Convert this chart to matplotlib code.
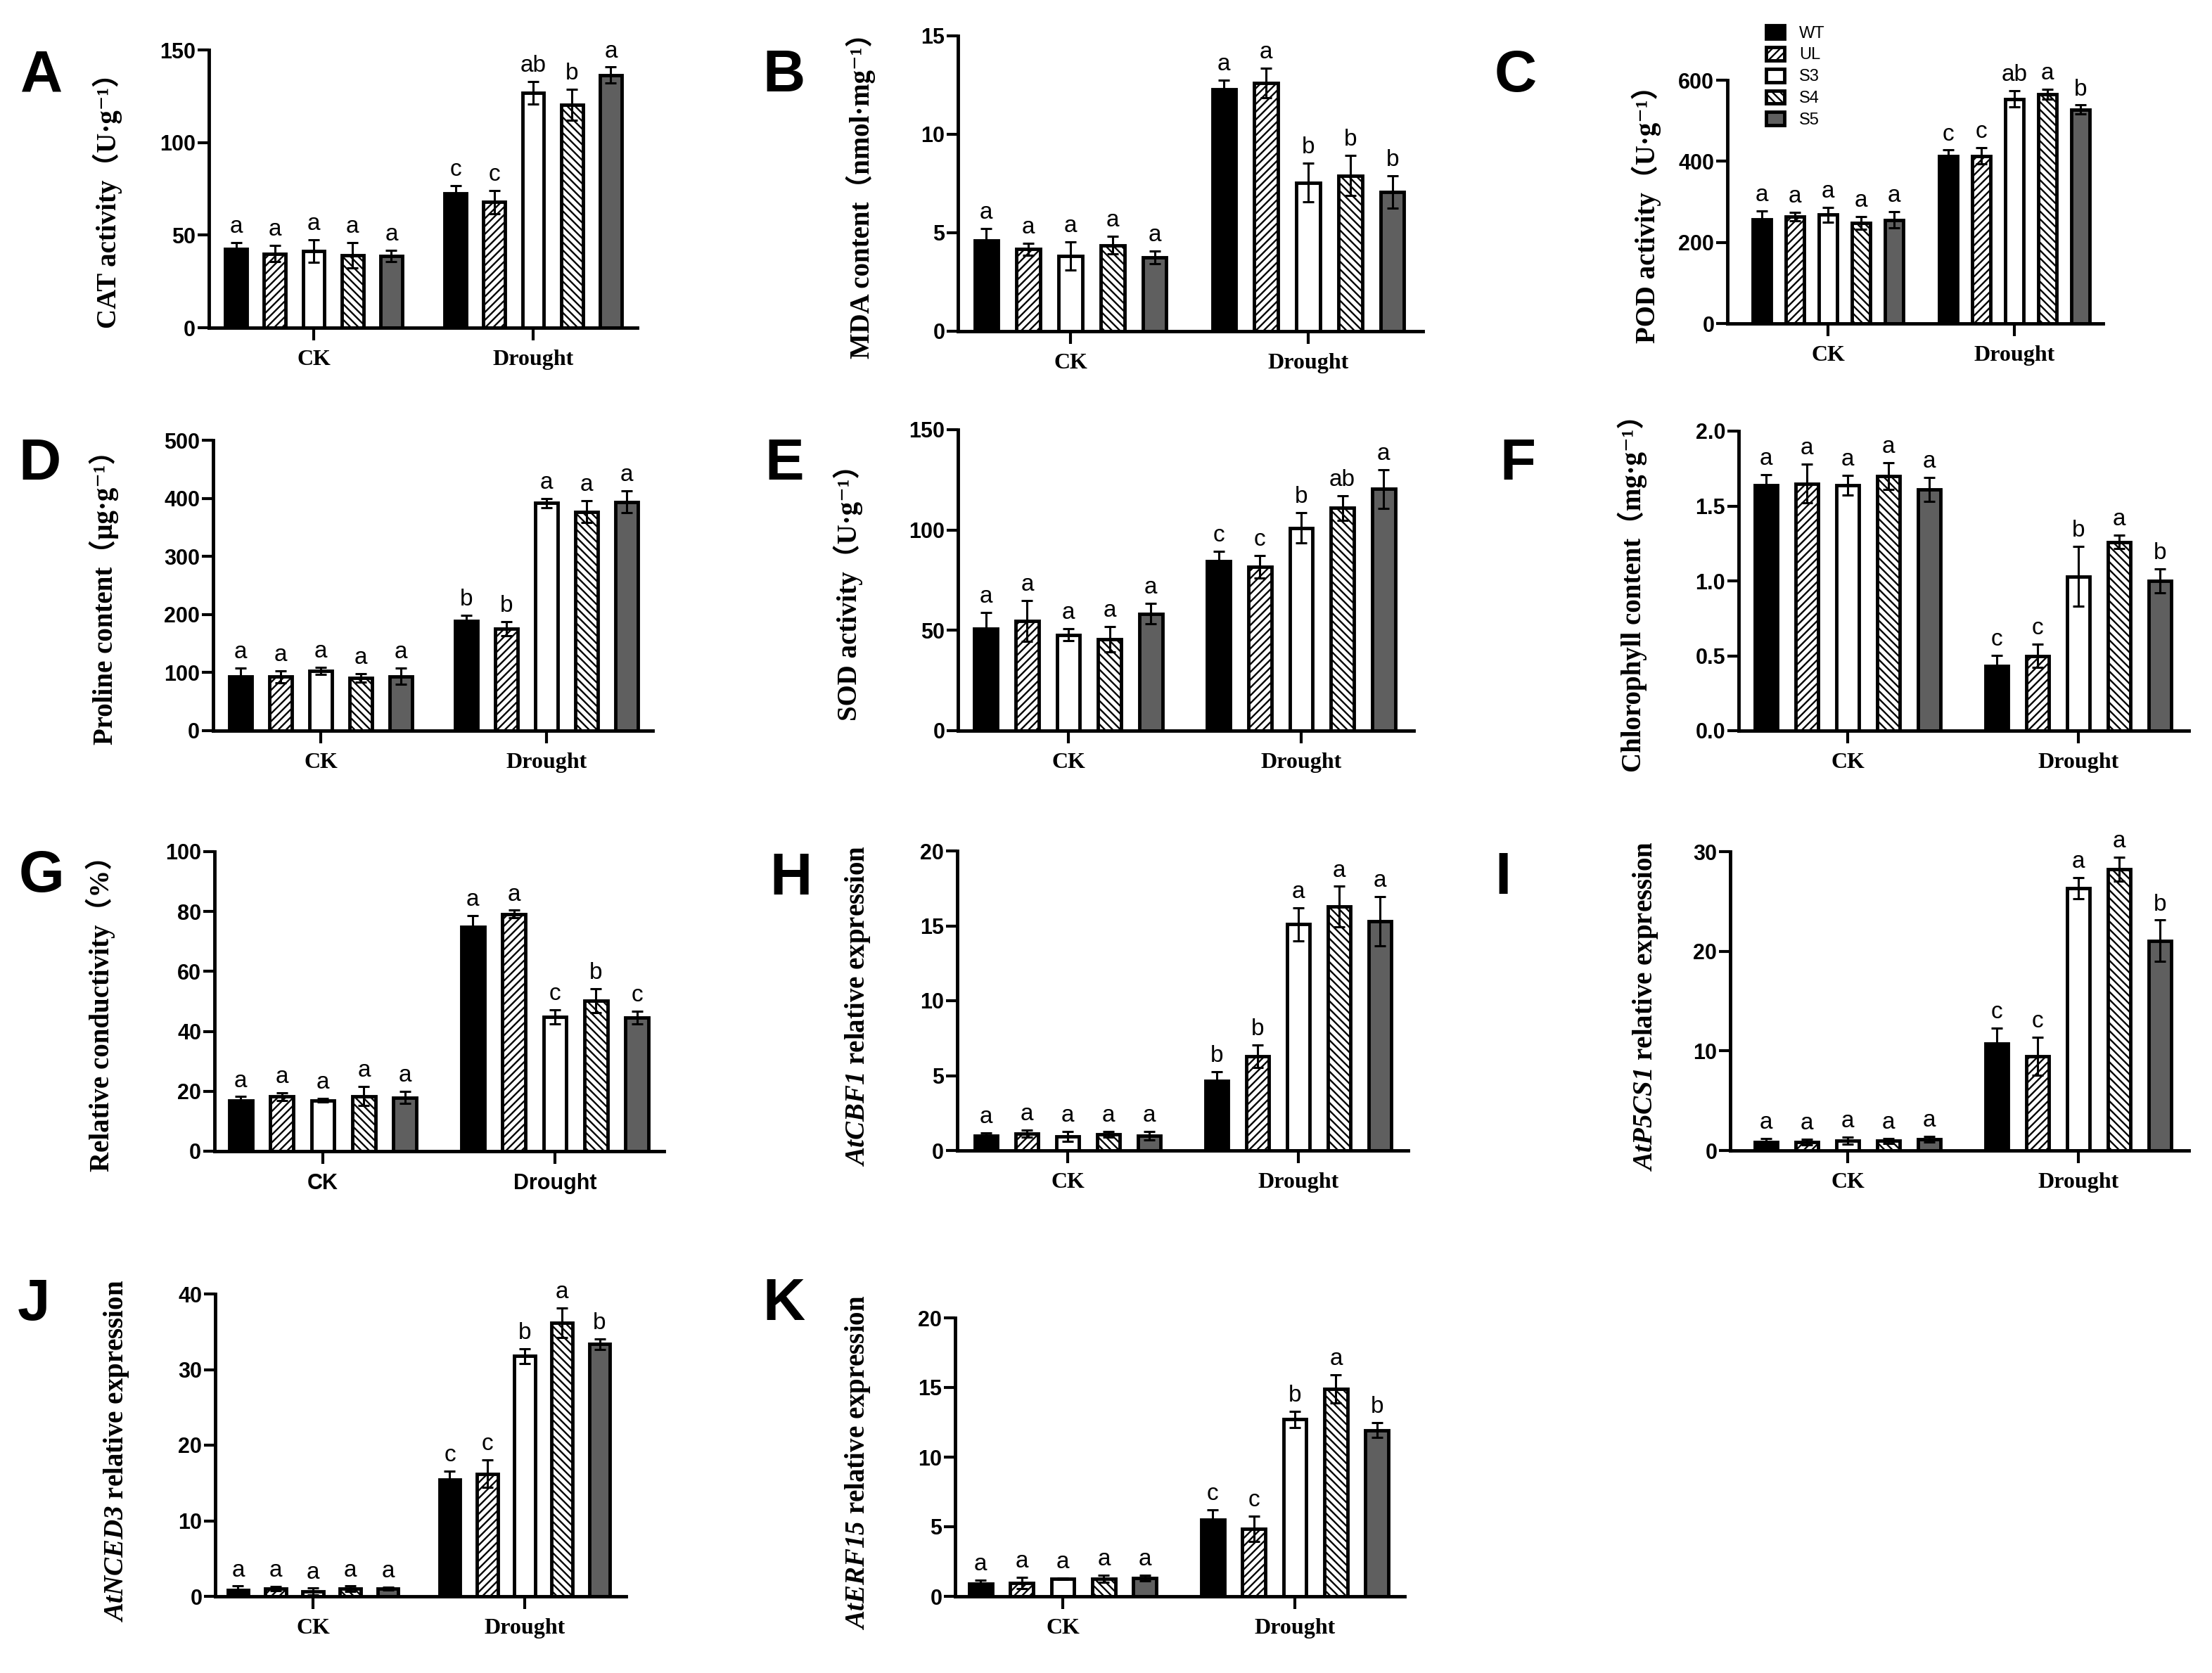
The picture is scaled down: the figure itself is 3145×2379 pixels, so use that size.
import numpy as np
import matplotlib.pyplot as plt

plt.rcParams['mathtext.fontset'] = 'custom'
plt.rcParams['mathtext.sf'] = 'Liberation Serif:italic:bold'
plt.rcParams['mathtext.it'] = 'Liberation Serif:italic:bold'
plt.rcParams['mathtext.rm'] = 'Liberation Serif:bold'
plt.rcParams['hatch.linewidth'] = 1.7
plt.rcParams['font.family'] = 'Liberation Sans'

W, H = 3145, 2379

genotypes = ["WT", "UL", "S3", "S4", "S5"]
groups = ["CK", "Drought"]

# each list: 5 CK values then 5 Drought values (WT, UL, S3, S4, S5)
cat_mean = [42.7, 40.0, 41.4, 39.0, 38.7, 72.6, 67.8, 126.9, 120.4, 136.4]
cat_err = [3.4, 4.4, 6.0, 6.8, 3.0, 4.0, 6.4, 6.0, 8.5, 4.3]
cat_sig = ["a", "a", "a", "a", "a", "c", "c", "ab", "b", "a"]

mda_mean = [4.59, 4.17, 3.82, 4.37, 3.76, 12.29, 12.61, 7.55, 7.90, 7.07]
mda_err = [0.64, 0.30, 0.73, 0.45, 0.32, 0.45, 0.76, 0.98, 1.02, 0.83]
mda_sig = ["a", "a", "a", "a", "a", "a", "a", "b", "b", "b"]

pod_mean = [257, 263, 268, 248, 255, 412, 413, 554, 565, 528]
pod_err = [20, 10.5, 18.5, 15.5, 20, 15.5, 20, 20, 12.4, 10.5]
pod_sig = ["a", "a", "a", "a", "a", "c", "c", "ab", "a", "b"]

pro_mean = [92.9, 92.9, 103.3, 90.8, 93.8, 188.8, 175.4, 391.7, 377.0, 393.8]
pro_err = [14.6, 10.4, 6.0, 7.0, 13.7, 9.6, 12.5, 7.5, 18.8, 18.8]
pro_sig = ["a", "a", "a", "a", "a", "b", "b", "a", "a", "a"]

sod_mean = [50.8, 54.7, 47.8, 45.6, 58.3, 84.6, 81.7, 101.1, 111.0, 120.4]
sod_err = [8.1, 10.2, 3.0, 6.4, 5.1, 4.8, 5.5, 7.6, 6.2, 9.6]
sod_sig = ["a", "a", "a", "a", "a", "c", "c", "b", "ab", "a"]

chl_mean = [1.64, 1.65, 1.64, 1.70, 1.61, 0.43, 0.50, 1.03, 1.26, 1.00]
chl_err = [0.07, 0.13, 0.066, 0.089, 0.079, 0.073, 0.076, 0.20, 0.045, 0.082]
chl_sig = ["a", "a", "a", "a", "a", "c", "c", "b", "a", "b"]

rc_mean = [16.8, 18.2, 17.0, 18.4, 17.9, 75.0, 79.2, 44.9, 50.3, 44.6]
rc_err = [1.4, 1.4, 0.6, 3.2, 2.0, 3.6, 1.2, 2.3, 4.0, 2.1]
rc_sig = ["a", "a", "a", "a", "a", "a", "a", "c", "b", "c"]

cbf_mean = [0.99, 1.12, 0.94, 1.08, 0.99, 4.64, 6.29, 15.1, 16.28, 15.29]
cbf_err = [0.18, 0.23, 0.32, 0.18, 0.27, 0.63, 0.77, 1.12, 1.35, 1.65]
cbf_sig = ["a", "a", "a", "a", "a", "b", "b", "a", "a", "a"]

p5cs_mean = [0.88, 0.83, 0.96, 0.96, 1.13, 10.71, 9.45, 26.34, 28.23, 21.05]
p5cs_err = [0.30, 0.30, 0.35, 0.22, 0.31, 1.59, 1.89, 1.06, 1.19, 2.07]
p5cs_sig = ["a", "a", "a", "a", "a", "c", "c", "a", "a", "b"]

nced_mean = [0.82, 1.0, 0.64, 1.0, 1.0, 15.48, 16.23, 31.78, 36.16, 33.38]
nced_err = [0.53, 0.28, 0.43, 0.35, 0.17, 1.07, 1.85, 0.96, 1.96, 0.71]
nced_sig = ["a", "a", "a", "a", "a", "c", "c", "b", "a", "b"]

erf_mean = [0.93, 0.97, 1.26, 1.26, 1.31, 5.53, 4.85, 12.71, 14.90, 11.94]
erf_err = [0.25, 0.40, 0.06, 0.25, 0.20, 0.68, 0.91, 0.58, 1.00, 0.52]
erf_sig = ["a", "a", "a", "a", "a", "c", "c", "b", "a", "b"]

bar_face = ["black", "white", "white", "white", "#5f5f5f"]
bar_hatch = [None, "///", None, "\\\\\\", None]
drought_shift = 5.65

panels = [
    ("A", "CAT activity（U·g⁻¹）", cat_mean, cat_err, cat_sig, [0, 50, 100, 150]),
    ("B", "MDA content（nmol·mg⁻¹）", mda_mean, mda_err, mda_sig, [0, 5, 10, 15]),
    ("C", "POD activity（U·g⁻¹）", pod_mean, pod_err, pod_sig, [0, 200, 400, 600]),
    ("D", "Proline content（µg·g⁻¹）", pro_mean, pro_err, pro_sig, [0, 100, 200, 300, 400, 500]),
    ("E", "SOD activity（U·g⁻¹）", sod_mean, sod_err, sod_sig, [0, 50, 100, 150]),
    ("F", "Chlorophyll content（mg·g⁻¹）", chl_mean, chl_err, chl_sig, [0.0, 0.5, 1.0, 1.5, 2.0]),
    ("G", "Relative conductivity（%）", rc_mean, rc_err, rc_sig, [0, 20, 40, 60, 80, 100]),
    ("H", r"$\mathsf{AtCBF1}$ relative expression", cbf_mean, cbf_err, cbf_sig, [0, 5, 10, 15, 20]),
    ("I", r"$\mathsf{AtP5CS1}$ relative expression", p5cs_mean, p5cs_err, p5cs_sig, [0, 10, 20, 30]),
    ("J", r"$\mathsf{AtNCED3}$ relative expression", nced_mean, nced_err, nced_sig, [0, 10, 20, 30, 40]),
    ("K", r"$\mathsf{AtERF15}$ relative expression", erf_mean, erf_err, erf_sig, [0, 5, 10, 15, 20]),
]

# pixel layout: left, right, CK tick, Drought tick, zero line, top line, ylabel dx, letter x, letter baseline
layout = {
    "A": (297, 906, 446, 758, 466, 71, -144, 59, 130),
    "B": (1362, 2023, 1522, 1860, 471, 51, -138, 1114, 130),
    "C": (2456, 2990, 2599, 2864, 460, 114, -115, 2155, 130),
    "D": (303, 928, 456, 777, 1039, 626, -155, 57, 682),
    "E": (1362, 2010, 1519, 1850, 1039, 611, -156, 1115, 682),
    "F": (2472, 3112, 2627, 2955, 1039, 613, -151, 2158, 682),
    "G": (305, 944, 459, 789, 1637, 1211, -162, 59, 1268),
    "H": (1361, 2002, 1518, 1846, 1636, 1210, -142, 1124, 1272),
    "I": (2460, 3112, 2627, 2955, 1636, 1211, -120, 2137, 1271),
    "J": (306, 890, 445, 746, 2270, 1840, -140, 48, 1877),
    "K": (1358, 1997, 1511, 1841, 2270, 1874, -139, 1114, 1877),
}

serif = ['Liberation Serif', 'DejaVu Serif', 'Noto Sans CJK SC']

fig = plt.figure(figsize=(W / 100, H / 100), dpi=100)
x = np.concatenate([np.arange(5), np.arange(5) + drought_shift])
handles = None

for letter, ylabel, mean, err, sig, yticks in panels:
    left, right, ck, dr, zero, top, ydx, lx, ly = layout[letter]
    ax = fig.add_axes([left / W, 1 - zero / H, (right - left) / W, (zero - top) / H])
    unit = (dr - ck) / drought_shift
    ax.set_xlim(2 - (ck - left) / unit, 2 + drought_shift + (right - dr) / unit)
    ax.set_ylim(0, yticks[-1])

    hs = []
    for g in range(5):
        b = ax.bar([x[g], x[g + 5]], [mean[g], mean[g + 5]], width=0.56,
                   color=bar_face[g], hatch=bar_hatch[g], edgecolor='black',
                   linewidth=3.5, zorder=2)
        hs.append(b)
    if letter == "C":
        handles = hs

    ax.errorbar(x, mean, yerr=err, fmt='none', ecolor='black', elinewidth=2.2,
                capsize=5.5, capthick=2.2, zorder=3, clip_on=False)
    for i in range(10):
        ax.annotate(sig[i], (x[i], mean[i] + err[i]), xytext=(0, 5),
                    textcoords='offset points', ha='center', va='bottom',
                    fontsize=24, family='Liberation Sans')

    for s in ['top', 'right']:
        ax.spines[s].set_visible(False)
    for s in ['left', 'bottom']:
        ax.spines[s].set_linewidth(3.5)

    ax.set_yticks(yticks)
    ax.tick_params(axis='y', direction='out', length=11.5, width=3, pad=2, labelsize=22)
    for lbl in ax.get_yticklabels():
        lbl.set_fontweight('bold')
    ax.set_xticks([2, 2 + drought_shift])
    if letter == "G":
        ax.set_xticklabels(groups, fontsize=22, fontweight='bold', family='Liberation Sans')
    else:
        ax.set_xticklabels(groups, fontsize=23, fontweight='bold', family=serif)
    ax.tick_params(axis='x', direction='out', length=13, width=3, pad=9)

    fam = 'Liberation Serif' if ylabel.startswith('$') else serif
    fig.text((left + ydx) / W, 1 - ((zero + top) / 2 + 8) / H, ylabel,
             rotation=90, ha='center', va='center', fontsize=28,
             fontweight='bold', family=fam)
    fig.text(lx / W, 1 - ly / H, letter, ha='center', va='baseline',
             fontsize=60, fontweight='bold', family='Liberation Sans')

fig.legend(handles, genotypes, loc='upper left', bbox_to_anchor=(2511 / W, 1 - 36 / H),
           frameon=False, borderpad=0, borderaxespad=0, handlelength=1.1,
           handleheight=0.85, handletextpad=0.9, labelspacing=0.35,
           prop={'family': 'Liberation Sans', 'size': 17})

fig.savefig("out.png", dpi=100)
